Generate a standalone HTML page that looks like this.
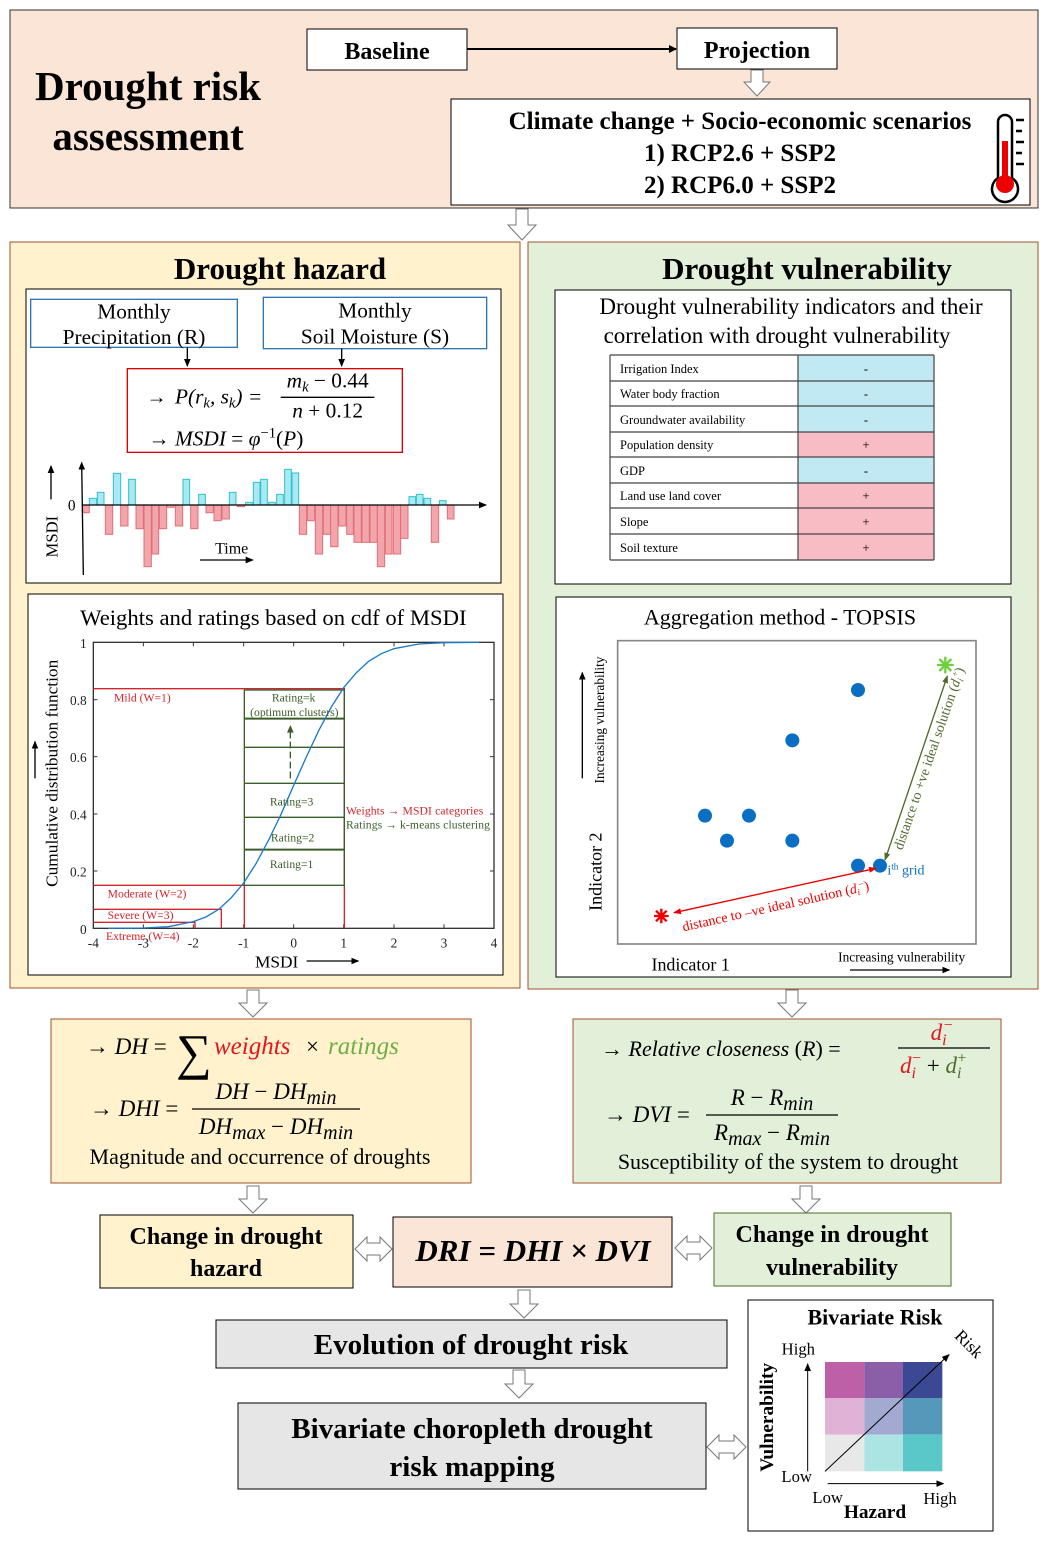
<!DOCTYPE html>
<html><head><meta charset="utf-8"><style>
html,body{margin:0;padding:0;background:#fff;}
svg{display:block;font-family:"Liberation Serif",serif;}
.i{font-style:italic;}
.b{font-weight:bold;}
</style></head><body>
<svg width="1048" height="1541" viewBox="0 0 1048 1541" xmlns="http://www.w3.org/2000/svg">
<defs>
<marker id="ak" markerWidth="8" markerHeight="8" refX="7" refY="4" orient="auto" markerUnits="userSpaceOnUse"><path d="M0,0 L8,4 L0,8 z" fill="#000"/></marker>
<marker id="akb" markerWidth="24" markerHeight="24" refX="21" refY="12" orient="auto" markerUnits="userSpaceOnUse"><path d="M0,2 L24,12 L0,22 z" fill="#000"/></marker>
<marker id="ar" markerWidth="24" markerHeight="24" refX="21" refY="12" orient="auto-start-reverse" markerUnits="userSpaceOnUse"><path d="M0,3 L24,12 L0,21 z" fill="#e00"/></marker>
<marker id="ag" markerWidth="24" markerHeight="24" refX="21" refY="12" orient="auto-start-reverse" markerUnits="userSpaceOnUse"><path d="M0,3 L24,12 L0,21 z" fill="#4f6b2a"/></marker>
</defs>

<!-- TOP BOX -->
<rect x="10" y="10" width="1028" height="198" fill="#fbe5d6" stroke="#333" stroke-width="1"/>
<text x="148" y="100" font-size="41" class="b" text-anchor="middle">Drought risk</text>
<text x="148" y="150" font-size="41" class="b" text-anchor="middle">assessment</text>
<rect x="307" y="29" width="160" height="41" fill="#fff" stroke="#000"/>
<text x="387" y="59" font-size="24" class="b" text-anchor="middle">Baseline</text>
<rect x="677" y="28" width="160" height="41" fill="#fff" stroke="#000"/>
<text x="757" y="58" font-size="24" class="b" text-anchor="middle">Projection</text>
<line x1="467" y1="49" x2="676" y2="49" stroke="#000" stroke-width="2" marker-end="url(#ak)"/>
<polygon points="751,70 763,70 763,82 770,82 757,96 744,82 751,82" fill="#fff" stroke="#777"/>
<rect x="451" y="99" width="579" height="106" fill="#fff" stroke="#000"/>
<text x="740" y="129" font-size="25" class="b" text-anchor="middle">Climate change + Socio-economic scenarios</text>
<text x="740" y="161" font-size="25" class="b" text-anchor="middle">1) RCP2.6 + SSP2</text>
<text x="740" y="193" font-size="25" class="b" text-anchor="middle">2) RCP6.0 + SSP2</text>
<path d="M998,178 L998,122 A7,7 0 0 1 1012,122 L1012,178 A13,13 0 1 1 998,178 z" fill="#fff" stroke="#000" stroke-width="2.5"/>
<rect x="1002" y="141" width="6" height="42" fill="#e00"/>
<circle cx="1005" cy="184" r="9" fill="#e00"/>
<g stroke="#000" stroke-width="2.5"><line x1="1016" y1="120" x2="1024" y2="120"/><line x1="1016" y1="131" x2="1022" y2="131"/><line x1="1016" y1="142" x2="1024" y2="142"/><line x1="1016" y1="153" x2="1022" y2="153"/><line x1="1016" y1="164" x2="1024" y2="164"/></g>

<polygon points="516,209 528,209 528,225 536,225 522,240 508,225 516,225" fill="#fff" stroke="#777"/>

<!-- HAZARD PANEL -->
<rect x="10" y="242" width="510" height="746" fill="#fff2cc" stroke="#a0522d"/>
<text x="280" y="279" font-size="31" class="b" text-anchor="middle">Drought hazard</text>
<rect x="26" y="289" width="475" height="294" fill="#fff" stroke="#000"/>
<g transform="translate(25,290) scale(0.33333)">
 <rect x="17" y="28" width="620" height="144" fill="#fff" stroke="#2e75b6" stroke-width="4"/>
 <text x="327" y="85" font-size="64" text-anchor="middle">Monthly</text>
 <text x="327" y="162" font-size="64" text-anchor="middle">Precipitation (R)</text>
 <rect x="715" y="22" width="670" height="154" fill="#fff" stroke="#2e75b6" stroke-width="4"/>
 <text x="1050" y="82" font-size="64" text-anchor="middle">Monthly</text>
 <text x="1050" y="160" font-size="64" text-anchor="middle">Soil Moisture (S)</text>
 <line x1="487" y1="172" x2="487" y2="228" stroke="#000" stroke-width="4" marker-end="url(#akb)"/>
 <line x1="950" y1="176" x2="950" y2="228" stroke="#000" stroke-width="4" marker-end="url(#akb)"/>
 <rect x="307" y="236" width="825" height="251" fill="#fff" stroke="#d00" stroke-width="4"/>
 <text x="365" y="340" font-size="60">→</text>
 <text x="450" y="340" font-size="64" class="i">P(r<tspan font-size="44" dy="12">k</tspan><tspan dy="-12">, s</tspan><tspan font-size="44" dy="12">k</tspan><tspan dy="-12">) =</tspan></text>
 <text x="908" y="292" font-size="64" text-anchor="middle"><tspan class="i">m</tspan><tspan class="i" font-size="44" dy="12">k</tspan><tspan dy="-12"> − 0.44</tspan></text>
 <line x1="767" y1="322" x2="1048" y2="322" stroke="#000" stroke-width="4"/>
 <text x="908" y="382" font-size="64" text-anchor="middle"><tspan class="i">n</tspan> + 0.12</text>
 <text x="370" y="467" font-size="64"><tspan>→ </tspan><tspan class="i">MSDI</tspan> = <tspan class="i">φ</tspan><tspan font-size="44" dy="-25">−1</tspan><tspan dy="25">(</tspan><tspan class="i">P</tspan>)</text>
 <g fill="#a9e8f5" stroke="#2cc3c3" stroke-width="3">
  <rect x="193" y="625" width="22" height="20"/><rect x="217" y="607" width="20" height="38"/><rect x="265" y="550" width="22" height="95"/><rect x="311" y="568" width="20" height="77"/><rect x="474" y="568" width="20" height="77"/><rect x="521" y="613" width="20" height="32"/><rect x="613" y="607" width="20" height="38"/><rect x="662" y="637" width="20" height="8"/><rect x="685" y="577" width="20" height="68"/><rect x="707" y="568" width="20" height="77"/><rect x="731" y="637" width="20" height="8"/><rect x="755" y="613" width="20" height="32"/><rect x="779" y="538" width="20" height="107"/><rect x="801" y="549" width="20" height="96"/><rect x="1152" y="620" width="20" height="25"/><rect x="1174" y="613" width="20" height="32"/><rect x="1197" y="625" width="20" height="20"/><rect x="1243" y="632" width="20" height="13"/>
 </g>
 <g fill="#f2a5aa" stroke="#e07078" stroke-width="3">
  <rect x="173" y="645" width="20" height="23"/><rect x="241" y="645" width="22" height="88"/><rect x="287" y="645" width="22" height="63"/><rect x="333" y="645" width="22" height="71"/><rect x="357" y="645" width="22" height="185"/><rect x="381" y="645" width="20" height="147"/><rect x="403" y="645" width="22" height="71"/><rect x="427" y="645" width="20" height="7"/><rect x="451" y="645" width="22" height="63"/><rect x="497" y="645" width="22" height="71"/><rect x="543" y="645" width="22" height="23"/><rect x="567" y="645" width="22" height="47"/><rect x="591" y="645" width="22" height="42"/><rect x="637" y="645" width="22" height="5"/><rect x="823" y="645" width="22" height="88"/><rect x="847" y="645" width="22" height="47"/><rect x="871" y="645" width="22" height="147"/><rect x="895" y="645" width="22" height="88"/><rect x="917" y="645" width="22" height="125"/><rect x="941" y="645" width="22" height="63"/><rect x="965" y="645" width="20" height="88"/><rect x="987" y="645" width="22" height="112"/><rect x="1011" y="645" width="22" height="112"/><rect x="1035" y="645" width="22" height="112"/><rect x="1057" y="645" width="22" height="185"/><rect x="1081" y="645" width="20" height="147"/><rect x="1105" y="645" width="22" height="147"/><rect x="1127" y="645" width="22" height="100"/><rect x="1219" y="645" width="22" height="112"/><rect x="1267" y="645" width="20" height="42"/>
 </g>
 <line x1="175" y1="855" x2="170" y2="518" stroke="#000" stroke-width="4" marker-end="url(#akb)"/>
 <line x1="170" y1="645" x2="1383" y2="645" stroke="#000" stroke-width="4" marker-end="url(#akb)"/>
 <text x="140" y="662" font-size="46" text-anchor="middle">0</text>
 <text transform="translate(98,740) rotate(-90)" font-size="50" text-anchor="middle">MSDI</text>
 <line x1="78" y1="628" x2="78" y2="528" stroke="#000" stroke-width="4" marker-end="url(#akb)"/>
 <text x="620" y="790" font-size="48" text-anchor="middle">Time</text>
 <line x1="525" y1="810" x2="683" y2="810" stroke="#000" stroke-width="4" marker-end="url(#akb)"/>
</g>

<!-- CDF -->
<rect x="28" y="594" width="475" height="381" fill="#fff" stroke="#000"/>
<g transform="translate(20,590) scale(0.33333)">
 <text x="760" y="105" font-size="68" text-anchor="middle">Weights and ratings based on cdf of MSDI</text>
 <rect x="220" y="157" width="1202" height="858" fill="#fff" stroke="#333" stroke-width="4"/>
 <g stroke="#333" stroke-width="3">
  <line x1="370" y1="1015" x2="370" y2="1003"/><line x1="520" y1="1015" x2="520" y2="1003"/><line x1="671" y1="1015" x2="671" y2="1003"/><line x1="821" y1="1015" x2="821" y2="1003"/><line x1="971" y1="1015" x2="971" y2="1003"/><line x1="1122" y1="1015" x2="1122" y2="1003"/><line x1="1272" y1="1015" x2="1272" y2="1003"/>
  <line x1="370" y1="157" x2="370" y2="169"/><line x1="520" y1="157" x2="520" y2="169"/><line x1="671" y1="157" x2="671" y2="169"/><line x1="821" y1="157" x2="821" y2="169"/><line x1="971" y1="157" x2="971" y2="169"/><line x1="1122" y1="157" x2="1122" y2="169"/><line x1="1272" y1="157" x2="1272" y2="169"/>
  <line x1="220" y1="843" x2="232" y2="843"/><line x1="220" y1="672" x2="232" y2="672"/><line x1="220" y1="500" x2="232" y2="500"/><line x1="220" y1="329" x2="232" y2="329"/>
  <line x1="1422" y1="843" x2="1410" y2="843"/><line x1="1422" y1="672" x2="1410" y2="672"/><line x1="1422" y1="500" x2="1410" y2="500"/><line x1="1422" y1="329" x2="1410" y2="329"/>
 </g>
 <g font-size="40" fill="#222" text-anchor="end">
  <text x="200" y="174">1</text><text x="200" y="345">0.8</text><text x="200" y="516">0.6</text><text x="200" y="688">0.4</text><text x="200" y="859">0.2</text><text x="200" y="1032">0</text>
 </g>
 <g font-size="40" fill="#222" text-anchor="middle">
  <text x="220" y="1072">-4</text><text x="370" y="1072">-3</text><text x="520" y="1072">-2</text><text x="671" y="1072">-1</text><text x="821" y="1072">0</text><text x="971" y="1072">1</text><text x="1122" y="1072">2</text><text x="1272" y="1072">3</text><text x="1422" y="1072">4</text>
 </g>
 <g fill="none" stroke="#d4242c" stroke-width="4">
  <polyline points="220,296 973,296 973,1015"/>
  <polyline points="220,886 673,886 673,1015"/>
  <polyline points="220,958 604,958 604,1015"/>
  <polyline points="220,997 525,997 525,1015"/>
 </g>
 <g fill="none" stroke="#3a5e2a" stroke-width="4">
  <rect x="673" y="300" width="300" height="586"/>
  <line x1="673" y1="386" x2="973" y2="386" stroke-width="6"/>
  <line x1="673" y1="472" x2="973" y2="472"/>
  <line x1="673" y1="580" x2="973" y2="580"/>
  <line x1="673" y1="682" x2="973" y2="682"/>
  <line x1="673" y1="779" x2="973" y2="779" stroke-width="6"/>
  <line x1="811" y1="565" x2="811" y2="425" stroke-dasharray="20,10"/>
 </g>
 <path d="M801,428 L811,405 L821,428 z" fill="#3a5e2a"/>
 <polyline fill="none" stroke="#1a7ac8" stroke-width="4" points="265,1015 370,1014 445,1010 520,995 558,981 596,958 633,924 671,879 708,821 746,750 784,671 821,586 859,501 896,422 934,351 971,293 1009,248 1046,214 1084,191 1122,176 1197,162 1272,158 1377,157"/>
 <g font-size="35" fill="#d4242c">
  <text x="282" y="335">Mild (W=1)</text>
  <text x="263" y="923">Moderate (W=2)</text>
  <text x="263" y="987">Severe  (W=3)</text>
  <text x="258" y="1050">Extreme  (W=4)</text>
  <text x="978" y="674" textLength="412">Weights → MSDI categories</text>
 </g>
 <g font-size="35" fill="#3a5e2a" text-anchor="middle">
  <text x="821" y="335">Rating=k</text>
  <text x="823" y="378">(optimum clusters)</text>
  <text x="815" y="647">Rating=3</text>
  <text x="818" y="755">Rating=2</text>
  <text x="815" y="834">Rating=1</text>
 </g>
 <text x="978" y="716" font-size="35" fill="#3a5e2a" textLength="432">Ratings → k-means clustering</text>
 <text transform="translate(112,550) rotate(-90)" font-size="52" text-anchor="middle">Cumulative  distribution  function</text>
 <line x1="45" y1="565" x2="45" y2="455" stroke="#000" stroke-width="4" marker-end="url(#akb)"/>
 <text x="770" y="1132" font-size="52" text-anchor="middle">MSDI</text>
 <line x1="860" y1="1113" x2="1015" y2="1113" stroke="#000" stroke-width="4" marker-end="url(#akb)"/>
</g>

<!-- VULNERABILITY PANEL -->
<rect x="528" y="242" width="510" height="747" fill="#e2f0d9" stroke="#a0522d"/>
<text x="807" y="279" font-size="31" class="b" text-anchor="middle">Drought vulnerability</text>
<rect x="555" y="290" width="456" height="294" fill="#fff" stroke="#000"/>
<text x="791" y="314" font-size="23" text-anchor="middle">Drought vulnerability  indicators and their</text>
<text x="777" y="343" font-size="23" text-anchor="middle">correlation with drought vulnerability</text>
<g font-size="12.5">
 <rect x="798" y="355" width="136" height="77" fill="#c1e9f3"/>
 <rect x="798" y="432" width="136" height="25" fill="#f8bcc5"/>
 <rect x="798" y="457" width="136" height="26" fill="#c1e9f3"/>
 <rect x="798" y="483" width="136" height="77" fill="#f8bcc5"/>
 <g stroke="#444" stroke-width="1.2">
  <line x1="610" y1="355" x2="934" y2="355"/><line x1="610" y1="381" x2="934" y2="381"/><line x1="610" y1="406" x2="934" y2="406"/><line x1="610" y1="432" x2="934" y2="432"/><line x1="610" y1="457" x2="934" y2="457"/><line x1="610" y1="483" x2="934" y2="483"/><line x1="610" y1="508" x2="934" y2="508"/><line x1="610" y1="534" x2="934" y2="534"/><line x1="610" y1="560" x2="934" y2="560"/>
  <line x1="610" y1="355" x2="610" y2="560"/><line x1="798" y1="355" x2="798" y2="560"/><line x1="934" y1="355" x2="934" y2="560"/>
 </g>
 <text x="620" y="373">Irrigation Index</text><text x="620" y="398">Water body fraction</text><text x="620" y="424">Groundwater availability</text><text x="620" y="449">Population density</text><text x="620" y="475">GDP</text><text x="620" y="500">Land use land cover</text><text x="620" y="526">Slope</text><text x="620" y="552">Soil texture</text>
 <g text-anchor="middle"><text x="866" y="373">-</text><text x="866" y="398">-</text><text x="866" y="424">-</text><text x="866" y="449">+</text><text x="866" y="475">-</text><text x="866" y="500">+</text><text x="866" y="526">+</text><text x="866" y="552">+</text></g>
</g>

<!-- TOPSIS -->
<rect x="556" y="597" width="455" height="380" fill="#fff" stroke="#000"/>
<g transform="translate(550,590) scale(0.33333)">
 <text x="690" y="103" font-size="66" text-anchor="middle">Aggregation  method - TOPSIS</text>
 <rect x="203" y="152" width="1075" height="910" fill="#fff" stroke="#888" stroke-width="5"/>
 <g fill="#0a6fc2">
  <circle cx="924" cy="300" r="21"/><circle cx="727" cy="451" r="21"/><circle cx="465" cy="677" r="21"/><circle cx="597" cy="677" r="21"/><circle cx="531" cy="752" r="21"/><circle cx="727" cy="752" r="21"/><circle cx="924" cy="827" r="21"/><circle cx="990" cy="827" r="21"/>
 </g>
 <g stroke="#6ed13a" stroke-width="7"><line x1="1186" y1="200" x2="1186" y2="250"/><line x1="1161" y1="225" x2="1211" y2="225"/><line x1="1168" y1="207" x2="1204" y2="243"/><line x1="1168" y1="243" x2="1204" y2="207"/></g>
 <g stroke="#e00" stroke-width="7"><line x1="334" y1="956" x2="334" y2="1000"/><line x1="312" y1="978" x2="356" y2="978"/><line x1="318" y1="962" x2="350" y2="994"/><line x1="318" y1="994" x2="350" y2="962"/></g>
 <line x1="372" y1="968" x2="978" y2="835" stroke="#e00" stroke-width="4" marker-start="url(#ar)" marker-end="url(#ar)"/>
 <line x1="1005" y1="810" x2="1192" y2="258" stroke="#4f6b2a" stroke-width="4" marker-start="url(#ag)" marker-end="url(#ag)"/>
 <text transform="translate(680,962) rotate(-12.5)" font-size="42" fill="#e00" text-anchor="middle">distance to –ve ideal solution  (<tspan class="i">d</tspan><tspan class="i" font-size="28" dy="8">i</tspan><tspan font-size="28" dy="-22">−</tspan><tspan dy="14">)</tspan></text>
 <text transform="translate(1150,510) rotate(-71)" font-size="42" fill="#4f6b2a" text-anchor="middle">distance to +ve ideal solution  (<tspan class="i">d</tspan><tspan class="i" font-size="28" dy="8">i</tspan><tspan font-size="28" dy="-22">+</tspan><tspan dy="14">)</tspan></text>
 <text x="1012" y="853" font-size="42" fill="#0a6fc2">i<tspan font-size="28" dy="-14">th</tspan><tspan dy="14"> grid</tspan></text>
 <text transform="translate(162,390) rotate(-90)" font-size="40" text-anchor="middle">Increasing vulnerability</text>
 <line x1="97" y1="565" x2="97" y2="248" stroke="#000" stroke-width="4" marker-end="url(#akb)"/>
 <text transform="translate(155,845) rotate(-90)" font-size="54" text-anchor="middle">Indicator 2</text>
 <text x="422" y="1142" font-size="54" text-anchor="middle">Indicator 1</text>
 <text x="1055" y="1115" font-size="40" text-anchor="middle">Increasing vulnerability</text>
 <line x1="900" y1="1140" x2="1198" y2="1140" stroke="#000" stroke-width="4" marker-end="url(#akb)"/>
</g>

<polygon points="247,990 259,990 259,1003 267,1003 253,1017 239,1003 247,1003" fill="#fff" stroke="#777"/>
<polygon points="786,990 798,990 798,1003 806,1003 792,1017 778,1003 786,1003" fill="#fff" stroke="#777"/>

<!-- DH box -->
<rect x="51" y="1019" width="420" height="164" fill="#fff2cc" stroke="#a0522d"/>
<text x="86" y="1054" font-size="23"><tspan>→ </tspan><tspan class="i">DH</tspan> =</text>
<text x="176" y="1069" font-size="50">∑</text>
<text x="214" y="1054" font-size="25" class="i" fill="#e8141e">weights</text>
<text x="306" y="1054" font-size="23">×</text>
<text x="328" y="1054" font-size="25" class="i" fill="#70ad47">ratings</text>
<text x="90" y="1116" font-size="23"><tspan>→ </tspan><tspan class="i">DHI</tspan> =</text>
<text x="276" y="1099" font-size="23" text-anchor="middle"><tspan class="i">DH</tspan> − <tspan class="i">DH</tspan><tspan class="i" font-size="20" dy="5">min</tspan></text>
<line x1="192" y1="1109" x2="360" y2="1109" stroke="#000" stroke-width="1.3"/>
<text x="276" y="1134" font-size="23" text-anchor="middle"><tspan class="i">DH</tspan><tspan class="i" font-size="20" dy="5">max</tspan><tspan dy="-5"> − </tspan><tspan class="i">DH</tspan><tspan class="i" font-size="20" dy="5">min</tspan></text>
<text x="260" y="1164" font-size="22" text-anchor="middle">Magnitude  and occurrence of droughts</text>

<!-- DV box -->
<rect x="573" y="1019" width="428" height="164" fill="#e2f0d9" stroke="#a0522d"/>
<text x="601" y="1056" font-size="22"><tspan>→ </tspan><tspan class="i">Relative closeness</tspan> (<tspan class="i">R</tspan>) =</text>
<text x="942" y="1040" font-size="23" class="i" fill="#e8141e" text-anchor="middle">d<tspan font-size="16" dy="5">i</tspan><tspan font-size="16" dx="-4" dy="-15">−</tspan></text>
<line x1="898" y1="1048" x2="990" y2="1048" stroke="#000" stroke-width="1.3"/>
<text x="900" y="1073" font-size="23"><tspan class="i" fill="#e8141e">d</tspan><tspan class="i" font-size="16" dy="5" fill="#e8141e">i</tspan><tspan font-size="16" dx="-4" dy="-15" fill="#e8141e">−</tspan><tspan dy="10"> + </tspan><tspan class="i" fill="#4f6b2a">d</tspan><tspan class="i" font-size="16" dy="5" fill="#4f6b2a">i</tspan><tspan font-size="16" dx="-4" dy="-15" fill="#4f6b2a">+</tspan></text>
<text x="604" y="1122" font-size="23"><tspan>→ </tspan><tspan class="i">DVI</tspan> =</text>
<text x="772" y="1105" font-size="23" text-anchor="middle"><tspan class="i">R</tspan> − <tspan class="i">R</tspan><tspan class="i" font-size="20" dy="5">min</tspan></text>
<line x1="706" y1="1115" x2="838" y2="1115" stroke="#000" stroke-width="1.3"/>
<text x="772" y="1140" font-size="23" text-anchor="middle"><tspan class="i">R</tspan><tspan class="i" font-size="20" dy="5">max</tspan><tspan dy="-5"> − </tspan><tspan class="i">R</tspan><tspan class="i" font-size="20" dy="5">min</tspan></text>
<text x="788" y="1169" font-size="22" text-anchor="middle">Susceptibility  of the system to drought</text>

<polygon points="247,1186 259,1186 259,1199 267,1199 253,1213 239,1199 247,1199" fill="#fff" stroke="#777"/>
<polygon points="800,1186 812,1186 812,1199 820,1199 806,1213 792,1199 800,1199" fill="#fff" stroke="#777"/>

<rect x="100" y="1215" width="253" height="73" fill="#fff2cc" stroke="#000"/>
<text x="226" y="1244" font-size="24" class="b" text-anchor="middle">Change in drought</text>
<text x="226" y="1276" font-size="24" class="b" text-anchor="middle">hazard</text>
<rect x="393" y="1217" width="279" height="70" fill="#fbe5d6" stroke="#000"/>
<text x="533" y="1261" font-size="31" class="b i" text-anchor="middle">DRI = DHI × DVI</text>
<rect x="714" y="1213" width="237" height="73" fill="#e2f0d9" stroke="#4f6b2a"/>
<text x="832" y="1242" font-size="24" class="b" text-anchor="middle">Change in drought</text>
<text x="832" y="1275" font-size="24" class="b" text-anchor="middle">vulnerability</text>
<polygon points="355,1249 367,1237 367,1243 380,1243 380,1237 392,1249 380,1261 380,1255 367,1255 367,1261" fill="#fff" stroke="#777"/>
<polygon points="675,1248 687,1236 687,1242 700,1242 700,1236 712,1248 700,1260 700,1254 687,1254 687,1260" fill="#fff" stroke="#777"/>
<polygon points="518,1290 530,1290 530,1304 538,1304 524,1318 510,1304 518,1304" fill="#fff" stroke="#777"/>

<rect x="216" y="1320" width="511" height="48" fill="#e7e6e6" stroke="#000"/>
<text x="471" y="1354" font-size="29" class="b" text-anchor="middle">Evolution of drought risk</text>
<polygon points="513,1370 525,1370 525,1384 533,1384 519,1398 505,1384 513,1384" fill="#fff" stroke="#777"/>
<rect x="238" y="1403" width="468" height="86" fill="#e7e6e6" stroke="#000"/>
<text x="472" y="1438" font-size="29" class="b" text-anchor="middle">Bivariate choropleth drought</text>
<text x="472" y="1476" font-size="29" class="b" text-anchor="middle">risk mapping</text>
<polygon points="707,1447 719,1435 719,1441 734,1441 734,1435 746,1447 734,1459 734,1453 719,1453 719,1459" fill="#fff" stroke="#777"/>

<rect x="748" y="1300" width="245" height="231" fill="#fff" stroke="#000"/>
<g transform="translate(745,1298) scale(0.33333)">
 <text x="390" y="80" font-size="66" class="b" text-anchor="middle">Bivariate Risk</text>
 <rect x="240" y="192" width="118" height="108" fill="#be60a8"/>
 <rect x="358" y="192" width="116" height="108" fill="#8a5ea8"/>
 <rect x="474" y="192" width="118" height="108" fill="#3b4994"/>
 <rect x="240" y="300" width="118" height="110" fill="#e0b2d6"/>
 <rect x="358" y="300" width="116" height="110" fill="#a3a9d0"/>
 <rect x="474" y="300" width="118" height="110" fill="#5698b9"/>
 <rect x="240" y="410" width="118" height="110" fill="#e8e8e8"/>
 <rect x="358" y="410" width="116" height="110" fill="#ace4e4"/>
 <rect x="474" y="410" width="118" height="110" fill="#5ac8c8"/>
 <line x1="240" y1="520" x2="612" y2="170" stroke="#000" stroke-width="3" marker-end="url(#akb)"/>
 <line x1="188" y1="520" x2="188" y2="198" stroke="#000" stroke-width="3" marker-end="url(#akb)"/>
 <line x1="248" y1="557" x2="595" y2="557" stroke="#000" stroke-width="3" marker-end="url(#akb)"/>
 <text x="160" y="170" font-size="50" text-anchor="middle">High</text>
 <text x="155" y="552" font-size="50" text-anchor="middle">Low</text>
 <text x="248" y="615" font-size="50" text-anchor="middle">Low</text>
 <text x="585" y="618" font-size="50" text-anchor="middle">High</text>
 <text x="390" y="660" font-size="58" class="b" text-anchor="middle">Hazard</text>
 <text transform="translate(84,358) rotate(-90)" font-size="58" class="b" text-anchor="middle">Vulnerability</text>
 <text transform="translate(660,150) rotate(45)" font-size="52" text-anchor="middle">Risk</text>
</g>
</svg>
</body></html>
